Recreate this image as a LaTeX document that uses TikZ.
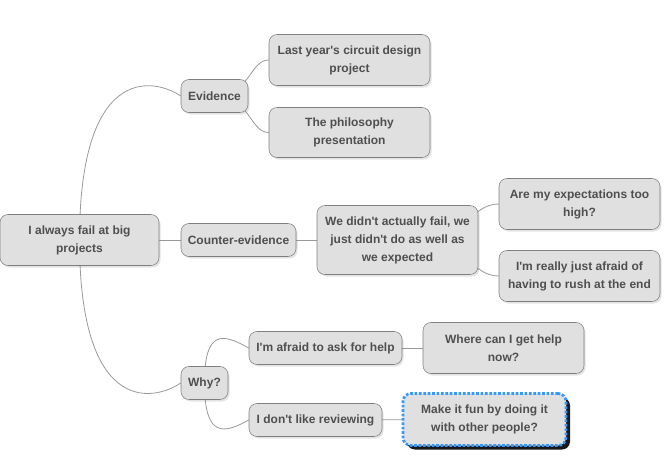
\documentclass[tikz,border=0pt]{standalone}
\usepackage{fontspec}
\setmainfont{Liberation Sans}
\usetikzlibrary{shadows, backgrounds}

\definecolor{boxfill}{HTML}{E0E0E0}
\definecolor{boxline}{HTML}{7F7F7F}
\definecolor{boxtext}{HTML}{4F4F4F}
\definecolor{linkgray}{HTML}{999999}
\definecolor{dotblue}{HTML}{3399FF}

\begin{document}
\begin{tikzpicture}[x = 0.75 pt, y = -0.75 pt,
	topic/.style = {draw = boxline, fill = boxfill, rounded corners = 6 pt, align = center, inner sep = 0 pt,
		text = boxtext, font = \bfseries\fontsize{9}{13.5}\selectfont,
		drop shadow = {opacity = 0.22, shadow xshift = 1.2 pt, shadow yshift = -1.5 pt}},
	wide/.style = {topic, minimum width = 120.75 pt, minimum height = 38.25 pt},
	small/.style = {topic, minimum height = 24.75 pt},
	link/.style = {draw = linkgray, line width = 0.6 pt}]

\useasboundingbox (0, 0) rectangle (669, 475);

% Central topic

\node [topic, minimum width = 119.25 pt, minimum height = 38.25 pt] (root) at (79.5, 240) {I always fail at big\\projects};

% Evidence branch

\node [small, minimum width = 50.25 pt] (evid) at (214.5, 96) {Evidence};
\node [wide] (lastyear) at (349.5, 60) {Last year\textquotesingle s circuit design\\project};
\node [wide, minimum height = 37.5 pt] (philo) at (349.5, 132.5) {The philosophy\\presentation};

% Counter-evidence branch

\node [small, minimum width = 86.25 pt] (counter) at (238.5, 240) {Counter-evidence};
\node [topic, minimum width = 120.75 pt, minimum height = 51.75 pt] (wedid) at (397.5, 240) {We didn\textquotesingle t actually fail, we\\just didn\textquotesingle t do as well as\\we expected};
\node [wide] (toohigh) at (579.5, 204) {Are my expectations too\\high?};
\node [wide] (rush) at (579.5, 276) {I\textquotesingle m really just afraid of\\having to rush at the end};

% Why branch

\node [small, minimum width = 35.25 pt] (why) at (204.5, 383) {Why?};
\node [small, minimum width = 114.75 pt] (askhelp) at (325.5, 348) {I\textquotesingle m afraid to ask for help};
\node [wide] (where) at (503.5, 348) {Where can I get help\\now?};
\node [small, minimum width = 99.75 pt] (review) at (315.5, 420) {I don\textquotesingle t like reviewing};
\node [topic, minimum width = 122.25 pt, minimum height = 39 pt, draw = dotblue, line width = 2 pt,
	dash pattern = on 2 pt off 1.3 pt,
	drop shadow = {fill = black, opacity = 0.9, shadow xshift = 3 pt, shadow yshift = -3 pt}] (funny) at (484.5, 419.5) {Make it fun by doing it\\with other people?};

% Links

\begin{scope}[on background layer]
	\draw [link] (root.center) .. controls +(0, -172) and +(-30, -20) .. (evid.west);
	\draw [link] (root.center) -- (counter.center);
	\draw [link] (root.center) .. controls +(0, 172) and +(-30, 20) .. (why.west);

	\draw [link] (evid.center) .. controls +(35.5, 0) and +(-19, 0) .. (lastyear.west);
	\draw [link] (evid.center) .. controls +(35.5, 0) and +(-19, 0) .. (philo.west);

	\draw [link] (counter.center) -- (wedid.center);
	\draw [link] (wedid.center) .. controls +(72.5, 0) and +(-29, 0) .. (toohigh.west);
	\draw [link] (wedid.center) .. controls +(72.5, 0) and +(-29, 0) .. (rush.west);

	\draw [link] (why.center) .. controls +(0, -55) and +(-25, -14) .. (askhelp.west);
	\draw [link] (why.center) .. controls +(0, 55) and +(-25, 14) .. (review.west);
	\draw [link] (askhelp.center) -- (where.center);
	\draw [link] (review.center) -- (funny.center);
\end{scope}

\end{tikzpicture}
\end{document}
